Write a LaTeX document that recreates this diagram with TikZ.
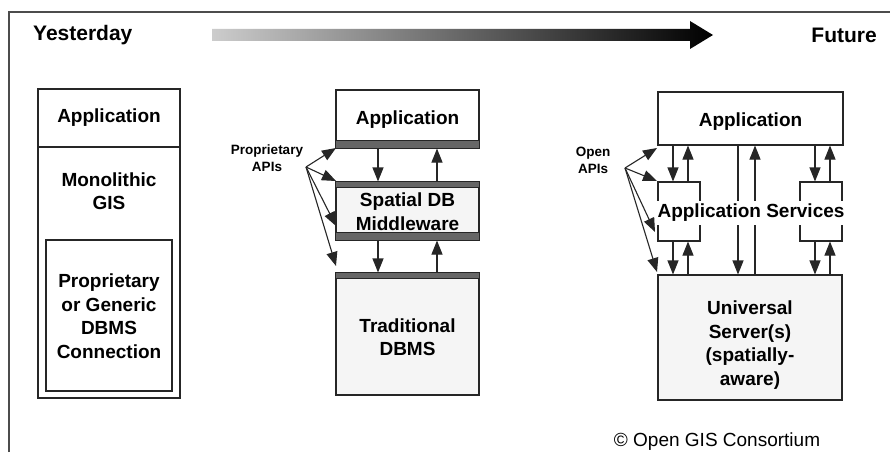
\documentclass[tikz,border=0pt]{standalone}
\usepackage{fontspec}
\setmainfont{Liberation Sans}
\usetikzlibrary{arrows.meta}
\begin{document}
\begin{tikzpicture}[x=1pt,y=-1pt,
  box/.style={draw=black!85, line width=1.1pt, inner sep=0pt, align=center},
  txt/.style={font=\fontsize{19}{23.5}\selectfont\bfseries, align=center, inner sep=1pt},
  head/.style={font=\fontsize{21}{24}\selectfont\bfseries, inner sep=0pt},
  small/.style={font=\fontsize{13.5}{17}\selectfont\bfseries, align=center, inner sep=0pt},
  arr/.style={draw=black!85, line width=1.1pt, -{Triangle[length=14pt,width=11pt]}},
  band/.style={fill=black!60, draw=black!85, line width=0.8pt},
  lightfill/.style={fill=black!4}]
\useasboundingbox (0,0) rectangle (890,452);
% frame
\draw[black!70, line width=1.2pt] (9,452) -- (9,12) -- (890,12);
% headings
\node[head, anchor=west] (yest) at (33,35) {Yesterday};
\node[head, anchor=east] (fut) at (877,35) {Future};
\shade[left color=black!20, right color=black] (212,29) -- (690,29) -- (690,21) -- (713,35) -- (690,49) -- (690,41) -- (212,41) -- cycle;

% ---- left column
\node[box, minimum width=142pt, minimum height=309pt] (lout) at (109,243.5) {};
\node[box, txt, minimum width=142pt, minimum height=58pt] (lapp) at (109,118) {Application};
\node[txt] (lmono) at (109,191) {Monolithic\\GIS};
\node[box, minimum width=126pt, minimum height=151pt] (lin) at (109,315.5) {};
\node[txt] (lintxt) at (109,316) {Proprietary\\or Generic\\DBMS\\Connection};

% ---- middle column
\node[box, txt, minimum width=143pt, minimum height=58pt] (mapp) at (407.5,119) {};
\node[box, lightfill, minimum width=143pt, minimum height=58pt] (mmid) at (407.5,211) {};
\node[box, lightfill, minimum width=143pt, minimum height=122pt] (mdb) at (407.5,334) {};
\draw[band] (mapp.south west) rectangle ([yshift=8pt]mapp.south east);
\draw[band] (mmid.north west) rectangle ([yshift=-6pt]mmid.north east);
\draw[band] (mmid.south west) rectangle ([yshift=8pt]mmid.south east);
\draw[band] (mdb.north west) rectangle ([yshift=-6pt]mdb.north east);
\node[txt] (mapptxt) at (407.5,120) {Application};
\node[txt] (mmidtxt) at (407.5,211.5) {Spatial DB\\Middleware};
\node[txt] (mdbtxt) at (407.5,337) {Traditional\\DBMS};
\draw[arr] ([xshift=-29.5pt]mapp.south) -- ([xshift=-29.5pt]mmid.north);
\draw[arr] ([xshift=29.5pt]mmid.north) -- ([xshift=29.5pt]mapp.south);
\draw[arr] ([xshift=-29.5pt]mmid.south) -- ([xshift=-29.5pt]mdb.north);
\draw[arr] ([xshift=29.5pt]mdb.north) -- ([xshift=29.5pt]mmid.south);
% proprietary APIs
\node[small] (papi) at (267,158) {Proprietary\\APIs};
\coordinate (po) at (306,167);
\coordinate (pt1) at (336,148);
\coordinate (pt2) at (336,181);
\coordinate (pt3) at (336,226);
\coordinate (pt4) at (336,266);
\foreach \t in {pt1,pt2,pt3,pt4} \draw[arr] (po) -- (\t);

% ---- right column
\node[box, minimum width=185pt, minimum height=53pt] (rapp) at (750.5,118.5) {};
\node[txt] (rapptxt) at (750.5,122) {Application};
\node[box, lightfill, minimum width=184pt, minimum height=125pt] (rsrv) at (750,337.5) {};
\node[txt] (rsrvtxt) at (750,345) {Universal\\Server(s)\\(spatially-\\aware)};
\node[box, minimum width=42pt, minimum height=59pt] (rsl) at (679,211.5) {};
\node[box, minimum width=42pt, minimum height=59pt] (rsr) at (821,211.5) {};
\coordinate (x1) at (673,0);
\coordinate (x2) at (688,0);
\coordinate (x3) at (738,0);
\coordinate (x4) at (755,0);
\coordinate (x5) at (815,0);
\coordinate (x6) at (830,0);
\draw[arr] (x1 |- rapp.south) -- (x1 |- rsl.north);
\draw[arr] (x2 |- rsl.north) -- (x2 |- rapp.south);
\draw[arr] (x1 |- rsl.south) -- (x1 |- rsrv.north);
\draw[arr] (x2 |- rsrv.north) -- (x2 |- rsl.south);
\draw[arr] (x5 |- rapp.south) -- (x5 |- rsr.north);
\draw[arr] (x6 |- rsr.north) -- (x6 |- rapp.south);
\draw[arr] (x5 |- rsr.south) -- (x5 |- rsrv.north);
\draw[arr] (x6 |- rsrv.north) -- (x6 |- rsr.south);
\draw[arr] (x3 |- rapp.south) -- (x3 |- rsrv.north);
\draw[arr] (x4 |- rsrv.north) -- (x4 |- rapp.south);
% open APIs
\coordinate (oo) at (625,168);
\coordinate (ot1) at (657,148);
\coordinate (ot2) at (657,181);
\coordinate (ot3) at (655,232);
\coordinate (ot4) at (657,272);
\foreach \t in {ot1,ot2,ot3,ot4} \draw[arr] (oo) -- (\t);
\node[small] (oapi) at (593,160) {Open\\APIs};
\node[txt, fill=white, inner sep=3pt] (rsvc) at (751,213) {Application Services};

% copyright
\node[font=\fontsize{19}{22}\selectfont, inner sep=0pt] (copy) at (717,442) {© Open GIS Consortium};
\end{tikzpicture}
\end{document}
